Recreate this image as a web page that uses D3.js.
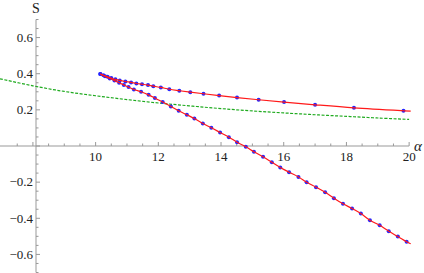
<!DOCTYPE html>
<html>
<head>
<meta charset="utf-8">
<script src="https://cdn.jsdelivr.net/npm/d3@7"></script>
<style>
  body { margin: 0; background: #fff; }
  svg { display: block; }
  .tick-label { font-family: "Liberation Serif", "DejaVu Serif", serif; font-size: 13px; fill: #222; }
</style>
</head>
<body>
<svg id="chart"></svg>
<script>
// green dashed reference curve
const greenAlpha = [6.95, 8, 9, 10, 11, 12, 13, 14, 15, 16, 17, 18, 19, 20];
const greenS = [0.372, 0.333, 0.302, 0.278, 0.257, 0.238, 0.222, 0.207, 0.194, 0.183, 0.173, 0.164, 0.155, 0.147];

// upper branch (starts at the cusp)
const upperAlpha = [10.15, 10.25, 10.38, 10.5, 10.63, 10.77, 10.95, 11.13, 11.3, 11.48, 11.67, 11.84, 12.08, 12.35, 12.67, 13.02, 13.44, 13.94, 14.51, 15.2, 16.01, 17.0, 18.24, 19.82];
const upperS = [0.398, 0.391, 0.383, 0.376, 0.369, 0.363, 0.357, 0.352, 0.346, 0.342, 0.337, 0.331, 0.324, 0.314, 0.306, 0.298, 0.289, 0.279, 0.268, 0.256, 0.243, 0.228, 0.211, 0.195];

// lower branch (starts at the cusp)
const lowerAlpha = [10.15, 10.3, 10.45, 10.6, 10.75, 10.9, 11.05, 11.22, 11.45, 11.69, 11.89, 12.14, 12.4, 12.65, 12.91, 13.15, 13.42, 13.69, 13.97, 14.25, 14.51, 14.79, 15.05, 15.34, 15.62, 15.89, 16.17, 16.47, 16.73, 17.03, 17.32, 17.6, 17.89, 18.18, 18.46, 18.75, 19.06, 19.35, 19.64, 19.92];
const lowerS = [0.398, 0.386, 0.374, 0.362, 0.35, 0.338, 0.326, 0.313, 0.3, 0.283, 0.266, 0.243, 0.219, 0.195, 0.173, 0.152, 0.125, 0.101, 0.075, 0.049, 0.021, -0.004, -0.032, -0.06, -0.09, -0.119, -0.145, -0.171, -0.2, -0.228, -0.256, -0.289, -0.32, -0.346, -0.374, -0.411, -0.439, -0.472, -0.501, -0.53];

// where the red fitted lines end on the right
const upperEnd = [20.05, 0.193];
const lowerEnd = [20.05, -0.541];

const xTickLabels = [10, 12, 14, 16, 18, 20];
const yTickLabels = [-0.6, -0.4, -0.2, 0.2, 0.4, 0.6];

const width = 424, height = 273;

const svg = d3.select("#chart").attr("width", width).attr("height", height);

// scales: x axis crosses at S = 0, y axis sits at alpha ~ 8.15
const x = d3.scaleLinear().domain([6.95, 20.05]).range([0, 410.7]);
const y = d3.scaleLinear().domain([-0.7, 0.7]).range([272.5, 19.5]);
const axisX = 36;

const zip = (a, b) => a.map((v, i) => [v, b[i]]);
const green = zip(greenAlpha, greenS);
const upper = zip(upperAlpha, upperS);
const lower = zip(lowerAlpha, lowerS);

// axes
const axisColor = "#999";
const xAxisG = svg.append("g").attr("transform", `translate(0,${y(0)})`);
xAxisG.append("line").attr("x1", 0).attr("x2", x(20)).attr("stroke", axisColor);

const xMinor = d3.range(7.5, 20.01, 0.5);
xAxisG.selectAll(".xt").data(xMinor).join("line")
  .attr("x1", d => x(d)).attr("x2", d => x(d))
  .attr("y1", 0).attr("y2", d => (d % 2 === 0 ? -4 : -2.5))
  .attr("stroke", axisColor);
xAxisG.selectAll(".xl").data(xTickLabels).join("text")
  .attr("class", "tick-label")
  .attr("x", d => x(d)).attr("y", 15)
  .attr("text-anchor", "middle")
  .text(d => d);

const yAxisG = svg.append("g").attr("transform", `translate(${axisX},0)`);
yAxisG.append("line").attr("y1", y(0.7)).attr("y2", y(-0.7)).attr("stroke", axisColor);
const yMinor = d3.range(-14, 15).map(k => k * 0.05);
yAxisG.selectAll(".yt").data(yMinor).join("line")
  .attr("x1", 0).attr("x2", (d, i) => ((i - 14) % 4 === 0 ? 4 : 2.5))
  .attr("y1", d => y(d)).attr("y2", d => y(d))
  .attr("stroke", axisColor);
yAxisG.selectAll(".yl").data(yTickLabels).join("text")
  .attr("class", "tick-label")
  .attr("x", -3).attr("y", d => y(d)).attr("dy", "0.33em")
  .attr("text-anchor", "end")
  .text(d => d3.format(".1f")(d).replace("-", "\u2212"));

svg.append("text")
  .attr("x", axisX).attr("y", 13)
  .attr("text-anchor", "middle")
  .style("font-family", "Liberation Serif, serif").style("font-size", "14px").style("fill", "#222")
  .text("S");
svg.append("text")
  .attr("x", 414).attr("y", 151)
  .style("font-family", "Liberation Serif, serif").style("font-size", "15px").style("font-style", "italic").style("fill", "#222")
  .text("\u03b1");

// green dashed curve
const line = d3.line().x(d => x(d[0])).y(d => y(d[1])).curve(d3.curveCatmullRom);
svg.append("path").datum(green)
  .attr("d", line).attr("fill", "none")
  .attr("stroke", "#1faa1f").attr("stroke-width", 1.2)
  .attr("stroke-dasharray", "3,1.5");

// blue data points
svg.append("g").selectAll("circle").data(upper.concat(lower)).join("circle")
  .attr("cx", d => x(d[0])).attr("cy", d => y(d[1]))
  .attr("r", 2).attr("fill", "#2525ff");

// red curves over the points
[upper.concat([upperEnd]), lower.concat([lowerEnd])].forEach(pts => {
  svg.append("path").datum(pts)
    .attr("d", line).attr("fill", "none")
    .attr("stroke", "#ff1a1a").attr("stroke-width", 1.2);
});
</script>
</body>
</html>
